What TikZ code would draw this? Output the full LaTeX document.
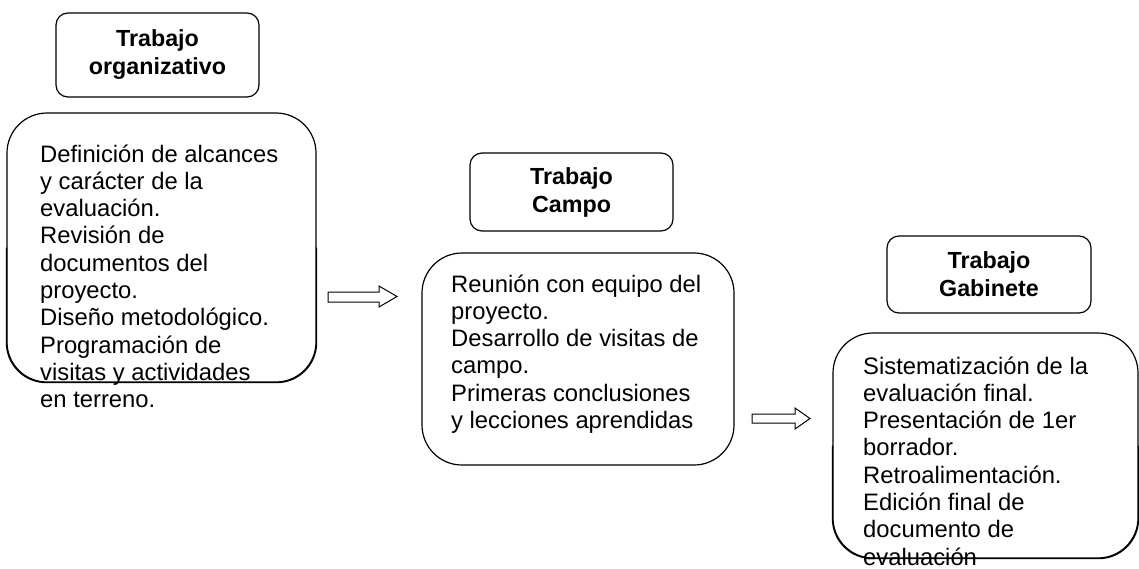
\documentclass[tikz,border=0pt]{standalone}
\usepackage{fontspec}
\setmainfont{Liberation Sans}
\begin{document}
\begin{tikzpicture}[x=1pt,y=-1pt,
  titlebox/.style={draw, line width=1.2pt, rounded corners=12pt, inner sep=0pt, align=center,
    font=\bfseries\fontsize{23.3}{28}\selectfont},
  bodybox/.style={draw, line width=1.2pt, rounded corners=40pt, inner sep=0pt},
  bodyline/.style={line width=1.2pt, rounded corners=40pt},
  bodytext/.style={anchor=base west, inner sep=0pt, font=\fontsize{23.8}{27.3}\selectfont},
  blockarrow/.style={draw, line width=1pt, line join=miter}]
\useasboundingbox (0,0) rectangle (1139,568);

% titles
\node[titlebox, minimum width=203pt, minimum height=84pt] (t1) at (157.5,55) {Trabajo\\organizativo};
\node[titlebox, minimum width=203pt, minimum height=78pt] (t2) at (571.5,192) {Trabajo\\Campo};
\node[titlebox, minimum width=204pt, minimum height=77pt] (t3) at (989,274.5) {Trabajo\\Gabinete};

% bodies
\node[bodybox, minimum width=309pt, minimum height=269pt] (b1) at (161.5,247.5) {};
\node[bodybox, minimum width=312pt, minimum height=212pt] (b2) at (578,359) {};
\node[bodybox, minimum width=305pt, minimum height=225pt] (b3) at (985.5,445.5) {};

\node[bodytext] (b1t) at (40,162) {\begin{tabular}[t]{@{}l@{}}
Definición de alcances\\
y carácter de la\\
evaluación.\\
Revisión de\\
documentos del\\
proyecto.\\
Diseño metodológico.\\
Programación de\\
visitas y actividades\\
en terreno.\end{tabular}};

\node[bodytext] (b2t) at (451,292) {\begin{tabular}[t]{@{}l@{}}
Reunión con equipo del\\
proyecto.\\
Desarrollo de visitas de\\
campo.\\
Primeras conclusiones\\
y lecciones aprendidas\end{tabular}};

\node[bodytext] (b3t) at (863,374) {\begin{tabular}[t]{@{}l@{}}
Sistematización de la\\
evaluación final.\\
Presentación de 1er\\
borrador.\\
Retroalimentación.\\
Edición final de\\
documento de\\
evaluación\end{tabular}};

% bottom lines of boxes 1 and 3 run over their text
\draw[bodyline] (b3.west) |- (b3.south) -| (b3.east);
\draw[bodyline] (b1.west) |- (b1.south) -| (b1.east);

% block arrows
\draw[blockarrow] (328,292) -- (379,292) -- (379,286) -- (397,296.5) -- (379,307) -- (379,302) -- (328,302) -- cycle;
\draw[blockarrow] (752,414) -- (795,414) -- (795,408) -- (810,418.5) -- (795,429) -- (795,423) -- (752,423) -- cycle;
\end{tikzpicture}
\end{document}
